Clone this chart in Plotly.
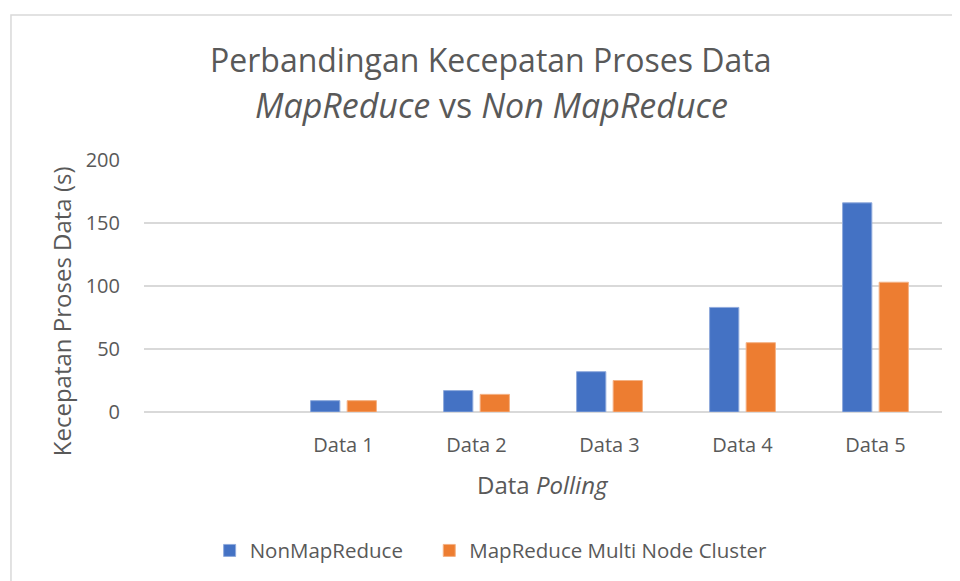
import plotly.graph_objects as go

categories = ["Data 1", "Data 2", "Data 3", "Data 4", "Data 5"]
non_mapreduce = [9, 17, 32, 83, 166]
mapreduce_cluster = [9, 14, 25, 55, 103]
y_ticks = [0, 50, 100, 150, 200]

FONT = "Open Sans"
GREY = "#595959"
PAD = "\u00a0" * 4  # extra spacing between legend entries

fig = go.Figure()
fig.add_trace(go.Bar(x=categories, y=non_mapreduce, name="NonMapReduce" + PAD,
                     marker=dict(color="#4472C4", line=dict(color="#8faadc", width=1))))
fig.add_trace(go.Bar(x=categories, y=mapreduce_cluster, name="MapReduce Multi Node Cluster",
                     marker=dict(color="#ED7D31", line=dict(color="#f4b183", width=1))))

fig.update_layout(
    width=960, height=581,
    margin=dict(l=136, r=26, t=152, b=177),
    paper_bgcolor="white", plot_bgcolor="white",
    barmode="group", bargap=0.45, bargroupgap=0.2,
    font=dict(family=FONT, color=GREY, size=20),
    showlegend=True,
    legend=dict(orientation="h", x=0.435, xanchor="center", y=-0.55, yanchor="middle",
                font=dict(size=20.5, color=GREY), traceorder="normal", itemwidth=30),
    xaxis=dict(type="category", categoryorder="array", categoryarray=categories,
               range=[-1.5, 4.5], showgrid=False, zeroline=False, showline=False,
               ticks="", ticklabelstandoff=19, tickfont=dict(size=20, color=GREY)),
    yaxis=dict(range=[0, 200], tickvals=y_ticks, showgrid=True, gridcolor="#d9d9d9",
               gridwidth=1.5, zeroline=True, zerolinecolor="#d9d9d9", zerolinewidth=1.5,
               showline=False, ticks="", ticklabelstandoff=23,
               tickfont=dict(size=20, color=GREY)),
    annotations=[
        dict(text="Perbandingan Kecepatan Proses Data", xref="paper", yref="paper",
             x=0.435, y=1.397, xanchor="center", yanchor="middle", showarrow=False,
             font=dict(size=32, color=GREY, family=FONT)),
        dict(text="<i>MapReduce</i> vs <i>Non MapReduce</i>", xref="paper", yref="paper",
             x=0.435, y=1.218, xanchor="center", yanchor="middle", showarrow=False,
             font=dict(size=34, color=GREY, family=FONT)),
        dict(text="Kecepatan Proses Data (s)", xref="paper", yref="paper",
             x=-0.104, y=0.40, xanchor="center", yanchor="middle", textangle=-90,
             showarrow=False, font=dict(size=24, color=GREY, family=FONT)),
        dict(text="Data <i>Polling</i>", xref="paper", yref="paper",
             x=0.5, y=-0.286, xanchor="center", yanchor="middle",
             showarrow=False, font=dict(size=24, color=GREY, family=FONT)),
    ],
    shapes=[dict(type="rect", xref="paper", yref="paper", x0=-0.1667, x1=1.05,
                 y0=-0.8, y1=1.575, line=dict(color="#d9d9d9", width=1.5),
                 fillcolor="rgba(0,0,0,0)", layer="below")],
)

fig.write_html("out.html")
